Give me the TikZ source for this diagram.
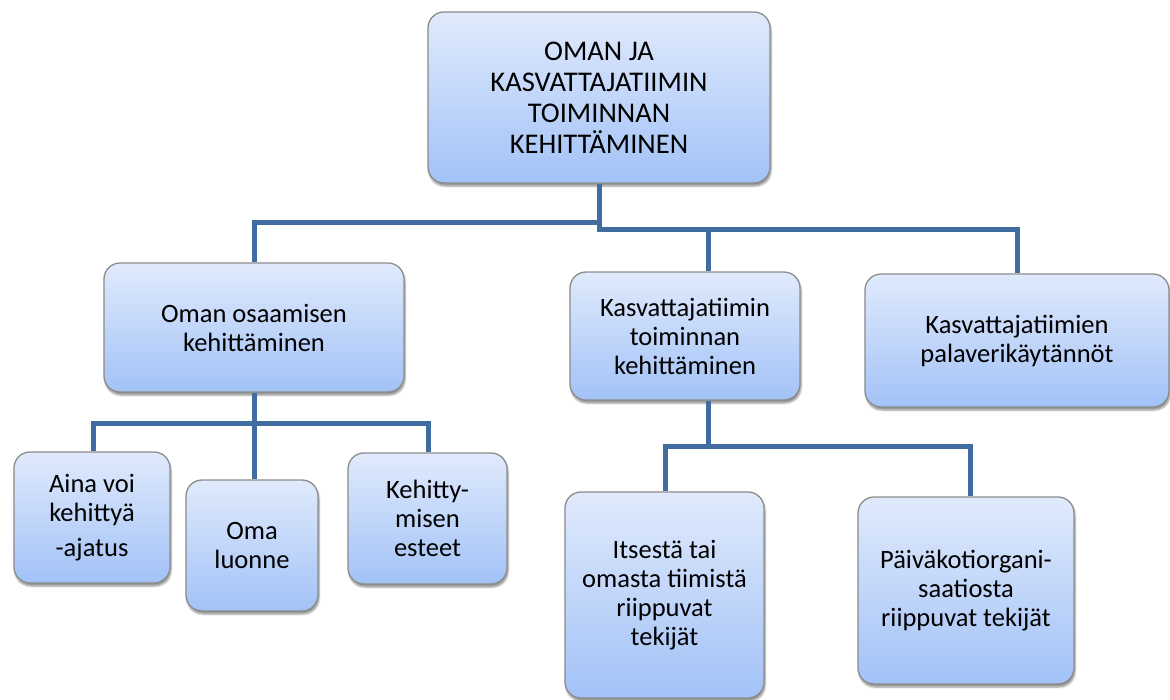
\documentclass[tikz,border=0pt]{standalone}
\usepackage{fontspec}
\setmainfont{Carlito}
\usetikzlibrary{shadows.blur}
\definecolor{boxtop}{RGB}{224,234,252}
\definecolor{boxbot}{RGB}{162,194,247}
\definecolor{boxline}{RGB}{140,140,140}
\definecolor{link}{RGB}{64,108,160}
\tikzset{
  box/.style={draw=boxline, line width=1.3pt, rounded corners=16pt,
    top color=boxtop, bottom color=boxbot, align=center,
    inner sep=0pt, font=\fontsize{26.5}{29}\selectfont,
    blur shadow={shadow xshift=1pt, shadow yshift=-3pt, shadow opacity=45, shadow blur steps=6}},
  headbox/.style={font=\fontsize{28.5}{31}\selectfont},
  link/.style={draw=link, line width=5pt, line join=miter}
}
\newcommand{\bx}[7][]{% options, name, x1, y1, x2, y2, text
  \node[box, #1, minimum width={(#5-#3)*1pt}, minimum height={(#6-#4)*1pt}] (#2) at ({(#3+#5)/2},{(#4+#6)/2}) {#7};}
\begin{document}
\begin{tikzpicture}[x=1pt,y=-1pt]
\useasboundingbox (0,0) rectangle (1170,699);
% junction points of the tree
\coordinate (j1) at (599,222);
\coordinate (j2) at (599,229);
\coordinate (j3) at (254,423);
\coordinate (j4) at (708,446);
\bx[headbox]{top}{428}{12}{770}{183}{OMAN JA\\KASVATTAJATIIMIN\\TOIMINNAN\\KEHITTÄMINEN}
\bx{own}{104}{263}{404}{392}{Oman osaamisen\\kehittäminen}
\bx{team}{570}{272}{800}{400}{Kasvattajatiimin\\toiminnan\\kehittäminen}
\bx{pal}{865}{274}{1169}{407}{Kasvattajatiimien\\palaverikäytännöt}
\bx{aina}{14}{452}{170}{583}{Aina voi\\kehittyä\\[6pt]-ajatus}
\bx{oma}{186}{480}{318}{611}{Oma\\luonne}
\bx{est}{348}{453}{507}{584}{Kehitty-\\misen\\esteet}
\bx{its}{565}{492}{764}{698}{Itsestä tai\\omasta tiimistä\\riippuvat\\tekijät}
\bx{pk}{858}{497}{1074}{684}{Päiväkotiorgani-\\saatiosta\\riippuvat tekijät}
% tree connectors
\draw[link] (top.south) -- (j1) -| (own.north);
\draw[link] (top.south) -- (j2) -| (pal.north);
\draw[link] (j2 -| j4) -- (j4 |- team.north);
\draw[link] (own.south) -- (j3) -| ([xshift=1pt]aina.north);
\draw[link] (j3) -| ([xshift=0.5pt]est.north);
\draw[link] (j3) -- (j3 |- oma.north);
\draw[link] (j4 |- team.south) -- (j4) -| ([xshift=0.5pt]its.north);
\draw[link] (j4) -| ([xshift=4pt]pk.north);
\end{tikzpicture}
\end{document}
